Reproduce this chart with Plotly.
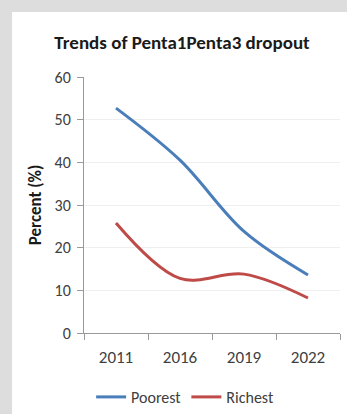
import plotly.graph_objects as go

years = ["2011", "2016", "2019", "2022"]
poorest = [52.7, 40.5, 23.8, 13.6]
richest = [25.8, 12.8, 13.8, 8.2]

BLUE = "#4a7ebb"
RED = "#be4b48"
GREY = "#dddddd"
FONT = "Carlito, Lato, sans-serif"

fig = go.Figure()
fig.add_trace(go.Scatter(x=years, y=poorest, name="Poorest", mode="lines",
                         line=dict(color=BLUE, width=3, shape="spline", smoothing=1.0)))
fig.add_trace(go.Scatter(x=years, y=richest, name="Richest", mode="lines",
                         line=dict(color=RED, width=3, shape="spline", smoothing=1.0)))

# grey page strips along the left and top of the white card
fig.add_shape(type="rect", xref="paper", yref="paper", layer="below",
              x0=-0.4, x1=-0.281, y0=-0.4, y1=1.4,
              fillcolor=GREY, line=dict(width=0))
fig.add_shape(type="rect", xref="paper", yref="paper", layer="below",
              x0=-0.4, x1=1.1, y0=1.254, y1=1.4,
              fillcolor=GREY, line=dict(width=0))

fig.update_layout(
    width=347, height=414,
    margin=dict(l=84, r=7, t=77, b=81, autoexpand=False),
    paper_bgcolor="white",
    plot_bgcolor="white",
    font=dict(family=FONT, color="#404040", size=16),
    title=dict(text="<b>Trends of Penta1Penta3 dropout</b>",
               font=dict(family=FONT, size=19, color="#1a1a1a"),
               x=0.383, xanchor="center", xref="paper", y=0.898, yanchor="middle"),
    showlegend=True,
    legend=dict(orientation="h", x=0.395, xanchor="center", y=-0.25, yanchor="middle",
                bgcolor="rgba(0,0,0,0)",
                font=dict(family=FONT, size=16, color="#404040"),
                itemwidth=30, tracegroupgap=0),
    xaxis=dict(type="category", showgrid=False, showline=True, linecolor="#999999",
               linewidth=1, ticks="outside", tickson="boundaries", ticklen=6,
               tickcolor="#999999", tickfont=dict(size=17, color="#404040"),
               ticklabelstandoff=9, range=[-0.5, 3.5], automargin=False),
    yaxis=dict(range=[0, 60], dtick=10, showgrid=True, gridcolor="#efefef",
               showline=True, linecolor="#999999", linewidth=1, ticks="outside",
               ticklen=6, tickcolor="#999999", zeroline=False,
               ticklabelstandoff=3, automargin=False,
               tickfont=dict(size=16, color="#404040"),
               title=dict(text="<b>Percent (%)</b>", standoff=8,
                          font=dict(family=FONT, size=17, color="#1a1a1a"))),
)

fig.write_html(
    "out.html",
    post_script=(
        "document.documentElement.style.overflow='hidden';"
        "document.body.style.margin='0';"
        "document.body.style.overflow='hidden';"
    ),
)
